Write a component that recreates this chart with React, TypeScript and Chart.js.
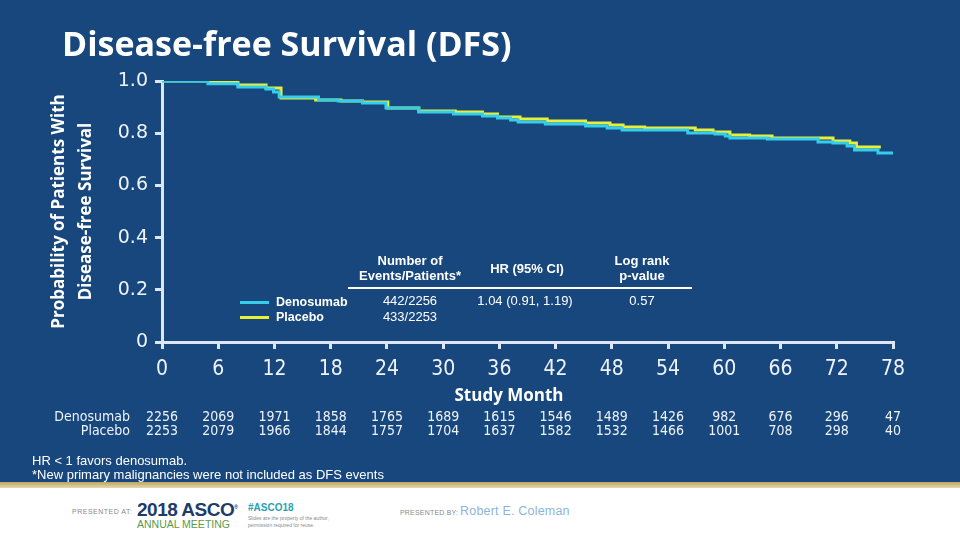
import React, { useEffect, useRef } from "react";
import { Chart, registerables } from "chart.js";

Chart.register(...registerables);

// ---- Data ----
const monthTicks = [0, 6, 12, 18, 24, 30, 36, 42, 48, 54, 60, 66, 72, 78];

const denoMonths = [0, 4.9, 8.1, 11.1, 11.9, 12.5, 16.7, 18.8, 21.4, 23.9, 27.4, 31.1, 34.2, 35.8, 37.2, 38.0, 40.9, 45.2, 47.5, 49.1, 56.1, 59.0, 60.1, 60.6, 64.6, 70.0, 71.6, 73.1, 73.9, 76.4, 78.0];
const denoSurv = [1.0, 0.989, 0.977, 0.969, 0.958, 0.939, 0.927, 0.923, 0.916, 0.897, 0.881, 0.874, 0.866, 0.858, 0.851, 0.843, 0.835, 0.828, 0.82, 0.812, 0.801, 0.797, 0.789, 0.782, 0.778, 0.766, 0.762, 0.751, 0.736, 0.724, 0.724];

const placMonths = [0, 5.0, 8.1, 11.1, 12.7, 16.4, 19.1, 21.4, 24.1, 27.4, 31.3, 34.2, 35.8, 38.2, 41.1, 45.2, 47.8, 49.2, 51.5, 56.9, 58.8, 60.6, 62.7, 65.1, 71.6, 73.4, 74.1, 76.7];
const placSurv = [1.0, 0.996, 0.985, 0.973, 0.935, 0.927, 0.923, 0.92, 0.897, 0.885, 0.881, 0.874, 0.862, 0.854, 0.847, 0.839, 0.831, 0.824, 0.82, 0.812, 0.805, 0.793, 0.789, 0.782, 0.77, 0.762, 0.747, 0.747];

const atRiskDeno = [2256, 2069, 1971, 1858, 1765, 1689, 1615, 1546, 1489, 1426, 982, 676, 296, 47];
const atRiskPlac = [2253, 2079, 1966, 1844, 1757, 1704, 1637, 1582, 1532, 1466, 1001, 708, 298, 40];

const seriesNames = ["Denosumab", "Placebo"];
const seriesColors = ["#35cdec", "#e6f03a"];

const BG = "#17477c";
const AXIS = "#dde7f3";
const NARROW = '"Liberation Sans Narrow", "DejaVu Sans Condensed", "Liberation Sans", sans-serif';

const atRiskPlugin = {
  id: "atRisk",
  afterDraw(chart: any) {
    const ctx = chart.ctx;
    const xs = chart.scales.x;
    ctx.save();
    ctx.fillStyle = "#eef3f9";
    ctx.font = `14px ${NARROW}`;
    ctx.textBaseline = "middle";
    ctx.textAlign = "center";
    monthTicks.forEach((m, i) => {
      const x = xs.getPixelForValue(m);
      ctx.fillText(String(atRiskDeno[i]), x, 417);
      ctx.fillText(String(atRiskPlac[i]), x, 431);
    });
    ctx.textAlign = "right";
    ctx.fillText(seriesNames[0], 130, 417);
    ctx.fillText(seriesNames[1], 130, 431);
    ctx.restore();
  },
};

const abs = (left: number, top: number, extra: any = {}) => ({
  position: "absolute" as const,
  left,
  top,
  whiteSpace: "nowrap" as const,
  ...extra,
});

export default function App() {
  const canvasRef = useRef<HTMLCanvasElement | null>(null);

  useEffect(() => {
    document.body.style.margin = "0";
    const canvas = canvasRef.current;
    if (!canvas) return;
    const toPts = (xs: number[], ys: number[]) => xs.map((x, i) => ({ x, y: ys[i] }));
    const chart = new Chart(canvas, {
      type: "line",
      data: {
        datasets: [
          {
            label: seriesNames[0],
            data: toPts(denoMonths, denoSurv),
            borderColor: seriesColors[0],
            borderWidth: 3,
            pointRadius: 0,
            stepped: "before",
            fill: false,
          },
          {
            label: seriesNames[1],
            data: toPts(placMonths, placSurv),
            borderColor: seriesColors[1],
            borderWidth: 3,
            pointRadius: 0,
            stepped: "before",
            fill: false,
          },
        ],
      },
      options: {
        responsive: false,
        animation: false,
        devicePixelRatio: 1,
        layout: { padding: { top: 81, right: 67, bottom: 0, left: 0 } },
        plugins: {
          legend: { display: false },
          tooltip: { enabled: false },
          title: { display: false },
        },
        scales: {
          x: {
            type: "linear",
            min: 0,
            max: 78,
            afterFit: (s: any) => {
              s.height = 198;
            },
            afterBuildTicks: (s: any) => {
              s.ticks = monthTicks.map((v) => ({ value: v }));
            },
            border: { display: true, color: AXIS, width: 3 },
            grid: { drawOnChartArea: false, drawTicks: true, tickLength: 7, color: AXIS, lineWidth: 3 },
            ticks: {
              color: "#eef3f9",
              padding: 8,
              maxRotation: 0,
              autoSkip: false,
              font: { family: NARROW, size: 21 },
              callback: (v: any) => String(v),
            },
          },
          y: {
            type: "linear",
            min: 0,
            max: 1,
            afterFit: (s: any) => {
              s.width = 162;
            },
            border: { display: true, color: AXIS, width: 3 },
            grid: { drawOnChartArea: false, drawTicks: true, tickLength: 7, color: AXIS, lineWidth: 3 },
            ticks: {
              stepSize: 0.2,
              color: "#eef3f9",
              padding: 7,
              font: { family: '"DejaVu Sans", sans-serif', size: 19 },
              callback: (v: any) => (Math.abs(v) < 1e-9 ? "0" : (Math.round(v * 10) / 10).toFixed(1)),
            },
            title: {
              display: true,
              text: ["Probability of Patients With", "Disease-free Survival"],
              color: "#ffffff",
              padding: { top: 46, bottom: 0 },
              font: { family: '"Open Sans", sans-serif', size: 17, weight: "bold", lineHeight: "27px" },
            },
          },
        },
      },
      plugins: [atRiskPlugin],
    } as any);
    return () => chart.destroy();
  }, []);

  const white = "#ffffff";
  const tblHead = { color: white, font: 'bold 13px "Liberation Sans", sans-serif', lineHeight: "15px", textAlign: "center" as const };
  const tblVal = { color: white, font: '13px "Liberation Sans", sans-serif', lineHeight: "15px" };

  return (
    <div style={{ position: "absolute", left: 0, top: 0, width: 960, height: 540, background: BG, overflow: "hidden", fontFamily: '"Liberation Sans", sans-serif' }}>
      <canvas ref={canvasRef} width={960} height={540} style={{ position: "absolute", left: 0, top: 0 }} />

      {/* Title */}
      <div style={abs(62, 26, { color: white, font: 'bold 34px "Open Sans", sans-serif', lineHeight: "35px" })}>
        Disease-free Survival (DFS)
      </div>

      {/* X axis title */}
      <div style={abs(409, 386, { width: 200, textAlign: "center", color: white, font: 'bold 17px "Open Sans", sans-serif', lineHeight: "17px" })}>
        Study Month
      </div>

      {/* Legend / stats table */}
      <div style={abs(330, 253, { width: 160, ...tblHead })}>Number of<br />Events/Patients*</div>
      <div style={abs(457, 261, { width: 140, ...tblHead })}>HR (95% CI)</div>
      <div style={abs(572, 253, { width: 140, ...tblHead })}>Log rank<br />p-value</div>
      <div style={abs(348, 287, { width: 344, height: 2, background: white })} />
      <div style={abs(330, 293, { width: 160, textAlign: "center", ...tblVal })}>442/2256<br /><span style={{ display: "inline-block", marginTop: 1 }}>433/2253</span></div>
      <div style={abs(455, 293, { width: 140, textAlign: "center", ...tblVal })}>1.04 (0.91, 1.19)</div>
      <div style={abs(572, 293, { width: 140, textAlign: "center", ...tblVal })}>0.57</div>
      <div style={abs(240, 301, { width: 29, height: 3, background: seriesColors[0] })} />
      <div style={abs(240, 316, { width: 29, height: 3, background: seriesColors[1] })} />
      <div style={abs(276, 295, { color: white, font: 'bold 12.5px "Liberation Sans", sans-serif', lineHeight: "15px" })}>{seriesNames[0]}</div>
      <div style={abs(276, 310, { color: white, font: 'bold 12.5px "Liberation Sans", sans-serif', lineHeight: "15px" })}>{seriesNames[1]}</div>

      {/* Footnotes */}
      <div style={abs(32, 454, { color: white, font: '13px "Liberation Sans", sans-serif', lineHeight: "14px" })}>
        HR &lt; 1 favors denosumab.
        <br />
        *New primary malignancies were not included as DFS events
      </div>

      {/* Footer band */}
      <div style={abs(0, 482, { width: 960, height: 6, background: "linear-gradient(#b9a66a, #e6d9a8)" })} />
      <div style={abs(0, 488, { width: 960, height: 52, background: "#ffffff" })} />
      <div style={abs(72, 508, { color: "#8a8a8a", font: '7px "Liberation Sans", sans-serif', letterSpacing: "0.5px" })}>PRESENTED AT:</div>
      <div style={abs(137, 498, { color: "#1d3c6b", font: 'bold 19px "Liberation Sans", sans-serif', lineHeight: "19px", letterSpacing: "-0.5px" })}>
        2018 ASCO<sup style={{ fontSize: 5 }}>®</sup>
      </div>
      <div style={abs(137, 519, { color: "#5a9a4a", font: '10.5px "Liberation Sans", sans-serif', lineHeight: "11px" })}>ANNUAL MEETING</div>
      <div style={abs(248, 502, { color: "#2a9fb3", font: 'bold 10px "Liberation Sans", sans-serif', lineHeight: "11px" })}>#ASCO18</div>
      <div style={abs(248, 515, { color: "#8a8a8a", font: '5px "Liberation Sans", sans-serif', lineHeight: "7px" })}>
        Slides are the property of the author,
        <br />
        permission required for reuse.
      </div>
      <div style={abs(400, 509, { color: "#8a8a8a", font: '7px "Liberation Sans", sans-serif', letterSpacing: "0.2px" })}>PRESENTED BY:</div>
      <div style={abs(460, 504, { color: "#8db4da", font: '12.5px "Liberation Sans", sans-serif', lineHeight: "14px", letterSpacing: "0.2px" })}>Robert E. Coleman</div>
    </div>
  );
}
